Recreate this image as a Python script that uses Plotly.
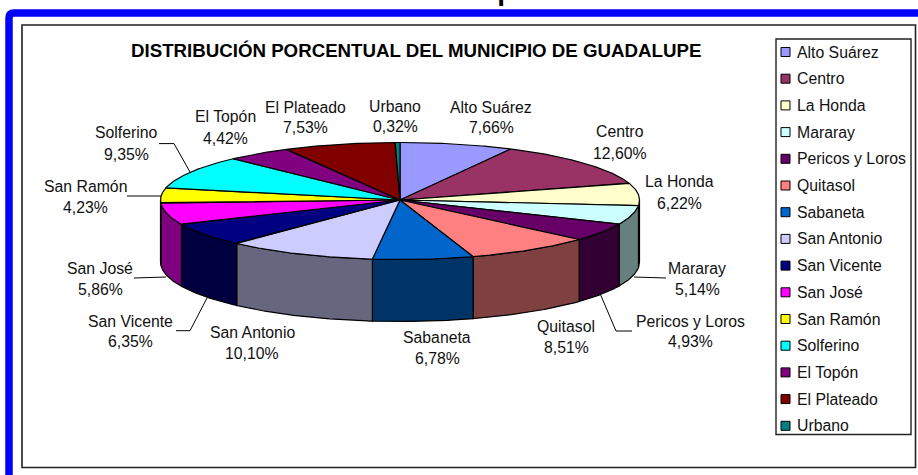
import numpy as np
import plotly.graph_objects as go

veredas = ["Alto Suárez", "Centro", "La Honda", "Mararay", "Pericos y Loros",
           "Quitasol", "Sabaneta", "San Antonio", "San Vicente", "San José",
           "San Ramón", "Solferino", "El Topón", "El Plateado", "Urbano"]
porcentajes = [7.66, 12.60, 6.22, 5.14, 4.93, 8.51, 6.78, 10.10, 6.35, 5.86,
               4.23, 9.35, 4.42, 7.53, 0.32]
colores = ["#9999FF", "#993366", "#FFFFCC", "#CCFFFF", "#660066", "#FF8080",
           "#0066CC", "#CCCCFF", "#000080", "#FF00FF", "#FFFF00", "#00FFFF",
           "#800080", "#800000", "#008080"]

titulo = "DISTRIBUCIÓN PORCENTUAL DEL MUNICIPIO DE GUADALUPE"
encabezado = "Gráfica 1. Distribución de la vereda por veredas"

# label placement: centre x, name y, value y
pos_etiquetas = [(491, 107, 127), (620, 131, 153), (679, 181, 203),
                 (697, 268, 289), (690, 321, 341), (566, 326, 347),
                 (437, 337, 358), (252, 332, 353), (130, 321, 341),
                 (100, 268, 289), (85, 186, 207), (126, 132, 154),
                 (225, 116, 138), (305, 107, 127), (395, 106, 126)]

# leader lines
guias = [[(159, 143.6), (174, 143.6), (190, 172)],
         [(127, 196), (161, 196)],
         [(134, 278), (166, 277)],
         [(176, 330.7), (190, 330.7), (207, 298)],
         [(666, 278), (634, 277)],
         [(632, 331), (616, 331), (600.7, 295)]]

CX, CY = 400, 200
RX, RY_BACK, RY_FRONT = 239.5, 57.5, 59.5
DEPTH = 62
LINE = 1.2
TEXT = "#111111"
FONT = "Liberation Sans"
FS = 15.8


def rim(t):
    ry = np.where(np.cos(t) > 0, RY_BACK, RY_FRONT)
    return CX + RX * np.sin(t), CY - ry * np.cos(t)


def darker(c):
    r, g, b = [int(c[i:i + 2], 16) // 2 for i in (1, 3, 5)]
    return f"rgb({r},{g},{b})"


edges = np.cumsum([0] + porcentajes) / sum(porcentajes) * 2 * np.pi

fig = go.Figure()

# side wall first, only the front half of the rim shows
for i, c in enumerate(colores):
    a, b = max(edges[i], np.pi / 2), min(edges[i + 1], 3 * np.pi / 2)
    if b <= a:
        continue
    x, y = rim(np.linspace(a, b, 60))
    fig.add_trace(go.Scatter(
        x=np.r_[x, x[::-1], x[0]], y=np.r_[y, y[::-1] + DEPTH, y[0]],
        mode="lines", fill="toself", fillcolor=darker(c),
        line=dict(color="black", width=LINE), hoverinfo="skip"))

for i, c in enumerate(colores):
    x, y = rim(np.linspace(edges[i], edges[i + 1], 60))
    fig.add_trace(go.Scatter(
        x=np.r_[CX, x, CX], y=np.r_[CY, y, CY],
        mode="lines", fill="toself", fillcolor=c,
        line=dict(color="black", width=LINE),
        name=veredas[i], hoverinfo="name"))

for g in guias:
    fig.add_trace(go.Scatter(
        x=[p[0] for p in g], y=[p[1] for p in g], mode="lines",
        line=dict(color="black", width=1), hoverinfo="skip"))

# legend is drawn by hand, plotly's own keeps a 30px swatch
ley_y = [52 + 26.7 * i for i in range(len(veredas))]
fig.add_trace(go.Scatter(
    x=[785.5] * len(veredas), y=ley_y, mode="markers",
    marker=dict(symbol="square", size=9, color=colores,
                line=dict(color="black", width=1)),
    hoverinfo="skip"))

anns = []
for name, y in zip(veredas, ley_y):
    anns.append(dict(x=795, y=y, text=name, showarrow=False, xanchor="left",
                     yanchor="middle",
                     font=dict(family=FONT, size=FS, color=TEXT)))
for name, val, (x, y1, y2) in zip(veredas, porcentajes, pos_etiquetas):
    for txt, y in ((name, y1), (f"{val:.2f}%".replace(".", ","), y2)):
        anns.append(dict(x=x, y=y, text=txt, showarrow=False, xanchor="center",
                         yanchor="middle",
                         font=dict(family=FONT, size=FS, color=TEXT)))
anns.append(dict(x=416, y=50, text=f"<b>{titulo}</b>", showarrow=False,
                 xanchor="center", yanchor="middle",
                 font=dict(family=FONT, size=18.7, color="black")))
# heading cut off by the top of the picture
anns.append(dict(xref="paper", yref="paper", x=338 / 918, y=1, yshift=-8,
                 xanchor="center", yanchor="bottom", showarrow=False,
                 text=f"<b>{encabezado}</b>",
                 font=dict(family=FONT, size=28, color="black")))

shapes = [
    dict(type="path", path="M 9 480 L 9 18 Q 9 13 14 13 L 925 13",
         line=dict(color="#0000FF", width=7.5)),
    dict(type="rect", x0=22, y0=25, x1=915.5, y1=467.5,
         line=dict(color="#222222", width=1.6)),
    dict(type="rect", x0=776, y0=39, x1=911, y1=434.5,
         line=dict(color="#222222", width=1.4)),
]

fig.update_layout(
    width=918, height=475, margin=dict(l=0, r=0, t=0, b=0),
    paper_bgcolor="white", plot_bgcolor="white", showlegend=False,
    xaxis=dict(range=[0, 918], visible=False, fixedrange=True),
    yaxis=dict(range=[475, 0], visible=False, fixedrange=True),
    annotations=anns, shapes=shapes)

fig.write_html("out.html", config=dict(displayModeBar=False),
               post_script="document.body.style.margin='0';")
